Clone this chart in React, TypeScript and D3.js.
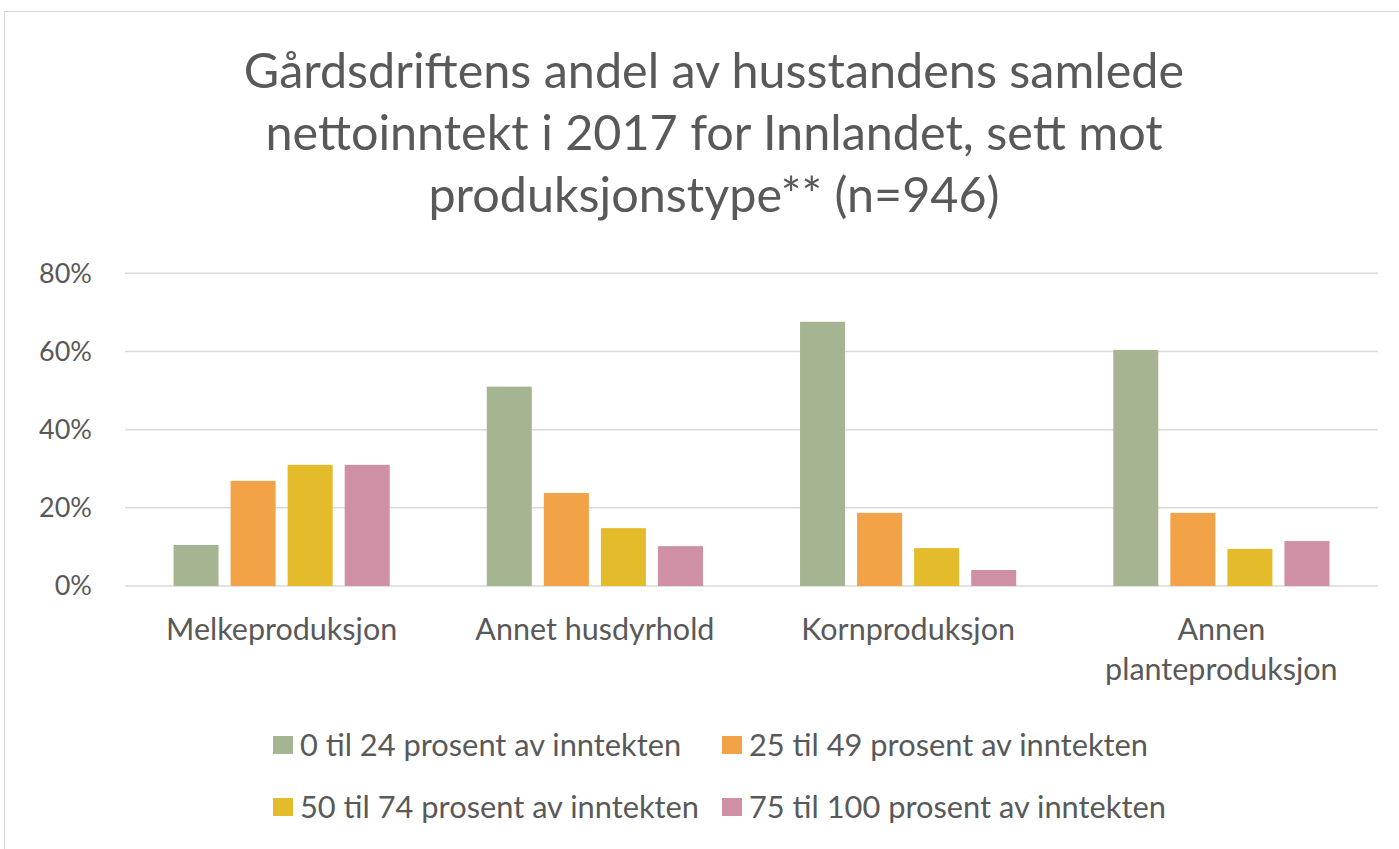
import { useRef, useEffect } from 'react';
import * as d3 from 'd3';

const categories = ['Melkeproduksjon', 'Annet husdyrhold', 'Kornproduksjon', 'Annen planteproduksjon'];
const seriesNames = [
  '0 til 24 prosent av inntekten',
  '25 til 49 prosent av inntekten',
  '50 til 74 prosent av inntekten',
  '75 til 100 prosent av inntekten',
];
const share0to24 = [10.5, 51, 67.6, 60.4];
const share25to49 = [26.9, 23.8, 18.7, 18.7];
const share50to74 = [31, 14.8, 9.7, 9.5];
const share75to100 = [31, 10.2, 4.1, 11.5];
const yTicks = [0, 20, 40, 60, 80];
const titleLines = [
  'Gårdsdriftens andel av husstandens samlede',
  'nettoinntekt i 2017 for Innlandet, sett mot',
  'produksjonstype** (n=946)',
];

const colors = ['#a6b591', '#f2a347', '#e4bb2a', '#cf8fa5'];
const FONT = 'Lato, "Open Sans", sans-serif';
const TEXT = '#595959';

const App = () => {
  const svgRef = useRef<SVGSVGElement>(null);

  useEffect(() => {
    const svg = d3.select(svgRef.current);
    svg.selectAll('*').remove();

    const W = 1399, H = 849;
    const left = 125, right = 1378, top = 273.3, bottom = 586;
    const allSeries = [share0to24, share25to49, share50to74, share75to100];

    // chart frame
    svg.append('rect')
      .attr('x', 4.5).attr('y', 11.5)
      .attr('width', W + 10).attr('height', H + 10)
      .attr('fill', 'white').attr('stroke', '#d9d9d9');

    // title
    svg.append('text')
      .attr('font-family', FONT).attr('font-size', 48.5).attr('fill', TEXT)
      .attr('text-anchor', 'middle')
      .selectAll('tspan')
      .data(titleLines)
      .enter().append('tspan')
      .attr('x', 714)
      .attr('y', (d, i) => 88 + i * 62)
      .text(d => d);

    const x0 = d3.scaleBand().domain(categories).range([left, right]);
    const y = d3.scaleLinear().domain([0, 80]).range([bottom, top]);

    // Excel-like gap width / overlap
    const gapWidth = 2.155, overlap = -0.267;
    const barW = x0.bandwidth() / (4 - 3 * overlap + gapWidth);
    const step = barW * (1 - overlap);
    const groupW = 4 * barW + 3 * (step - barW);

    // gridlines
    svg.append('g')
      .selectAll('line')
      .data(yTicks)
      .enter().append('line')
      .attr('x1', left).attr('x2', right)
      .attr('y1', d => y(d)).attr('y2', d => y(d))
      .attr('stroke', '#d9d9d9').attr('stroke-width', 1.5);

    // y tick labels
    svg.append('g')
      .selectAll('text')
      .data(yTicks)
      .enter().append('text')
      .attr('x', 92)
      .attr('y', d => y(d))
      .attr('dy', '0.35em')
      .attr('text-anchor', 'end')
      .attr('font-family', FONT).attr('font-size', 27).attr('fill', TEXT)
      .text(d => `${d}%`);

    // bars
    allSeries.forEach((vals, s) => {
      svg.append('g')
        .selectAll('rect')
        .data(vals)
        .enter().append('rect')
        .attr('x', (d, i) => x0(categories[i])! + x0.bandwidth() / 2 - groupW / 2 + s * step)
        .attr('y', d => y(d))
        .attr('width', barW)
        .attr('height', d => bottom - y(d))
        .attr('fill', colors[s]);
    });

    // category labels
    const catLines: Record<string, string[]> = {
      'Annen planteproduksjon': ['Annen', 'planteproduksjon'],
    };
    categories.forEach(c => {
      const lines = catLines[c] || [c];
      const t = svg.append('text')
        .attr('text-anchor', 'middle')
        .attr('font-family', FONT).attr('font-size', 30.5).attr('fill', TEXT);
      lines.forEach((l, i) => {
        t.append('tspan')
          .attr('x', x0(c)! + x0.bandwidth() / 2)
          .attr('y', 640 + i * 40)
          .text(l);
      });
    });

    // legend
    const legendPos = [
      { x: 273, y: 745 },
      { x: 722, y: 745 },
      { x: 273, y: 807 },
      { x: 722, y: 807 },
    ];
    seriesNames.forEach((name, i) => {
      const g = svg.append('g').attr('transform', `translate(${legendPos[i].x},${legendPos[i].y})`);
      g.append('rect')
        .attr('x', 0).attr('y', -9)
        .attr('width', 20).attr('height', 18)
        .attr('fill', colors[i]);
      g.append('text')
        .attr('x', 27).attr('y', 0).attr('dy', '0.35em')
        .attr('font-family', FONT).attr('font-size', 30.8).attr('fill', TEXT)
        .text(name);
    });
  }, []);

  return (
    <svg
      ref={svgRef}
      width={1399}
      height={849}
      style={{ position: 'absolute', left: 0, top: 0, background: 'white' }}
    />
  );
};

export default App;
